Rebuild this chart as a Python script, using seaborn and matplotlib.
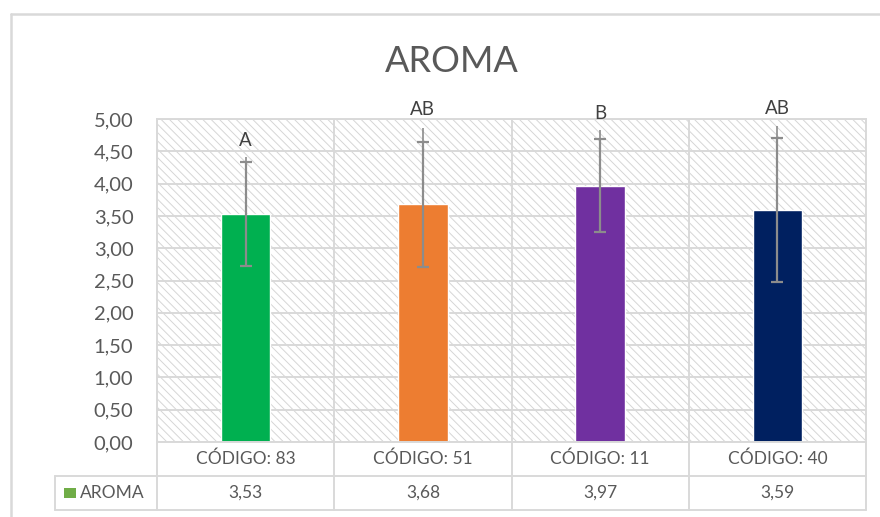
import matplotlib.pyplot as plt
import pandas as pd
import seaborn as sns
from matplotlib.lines import Line2D
from matplotlib.patches import Rectangle

# data
codes = ['CÓDIGO: 83', 'CÓDIGO: 51', 'CÓDIGO: 11', 'CÓDIGO: 40']
aroma = [3.53, 3.68, 3.97, 3.59]
sd = [0.80, 0.97, 0.72, 1.12]
whisker_top = [4.41, 4.86, 4.83, 4.89]
letters = ['A', 'AB', 'B', 'AB']
letter_y = [4.67, 5.15, 5.09, 5.17]
yticks = [0.0, 0.5, 1.0, 1.5, 2.0, 2.5, 3.0, 3.5, 4.0, 4.5, 5.0]
bar_colors = ['#00B050', '#ED7D31', '#7030A0', '#002060']

sns.set_style('white')
plt.rcParams['font.family'] = ['Lato', 'DejaVu Sans']
plt.rcParams['hatch.color'] = '#d6d6d6'
plt.rcParams['hatch.linewidth'] = 0.7

grid_c = '#d9d9d9'
text_c = '#595959'

df = pd.DataFrame({'codigo': codes, 'aroma': aroma})

fig = plt.figure(figsize=(8.8, 5.17), dpi=100)
ax = fig.add_axes([157 / 880, 1 - 442 / 517, 709 / 880, 323 / 517])

# hatched plot area background
ax.add_patch(Rectangle((0, 0), 1, 1, transform=ax.transAxes, facecolor='white',
                       edgecolor='#d6d6d6', lw=0, hatch='\\\\\\\\', zorder=0.2))

sns.barplot(data=df, x='codigo', y='aroma', hue='codigo', palette=bar_colors,
            width=0.28, legend=False, ax=ax, zorder=2, saturation=1)

x = list(range(len(codes)))
ax.errorbar(x, aroma, yerr=sd, fmt='none', ecolor='#8c8c8c', elinewidth=1.6,
            capsize=4.3, capthick=1.6, zorder=3)
tops = [v + e for v, e in zip(aroma, sd)]
ax.vlines(x, tops, whisker_top, color='#8c8c8c', lw=1.2, zorder=3)

for xi, lab, ly in zip(x, letters, letter_y):
    ax.text(xi, ly, lab, ha='center', va='center', fontsize=13.5, color='#404040', clip_on=False)

ax.set_xlim(-0.5, 3.5)
ax.set_ylim(0, 5)
ax.set_yticks(yticks)
ax.set_yticklabels([f'{v:.2f}'.replace('.', ',') for v in yticks], fontsize=14.5, color=text_c)
ax.set_xticks(x)
ax.set_xticklabels([])
ax.set_xticks([-0.5, 0.5, 1.5, 2.5, 3.5], minor=True)
ax.set_xlabel('')
ax.set_ylabel('')
ax.tick_params(axis='both', which='both', length=0, pad=17)
ax.set_axisbelow(True)
ax.grid(axis='y', color=grid_c, lw=1.4, zorder=0.5)
ax.grid(axis='x', which='minor', color=grid_c, lw=1.4, zorder=0.5)
for s in ax.spines.values():
    s.set_color(grid_c)
    s.set_linewidth(1.4)

# data table under the plot
h = 34 / 323
left = (55 - 157) / 709
tr = ax.transAxes
for yy in [-h, -2 * h]:
    ax.add_line(Line2D([left, 1], [yy, yy], transform=tr, color=grid_c, lw=1.4, clip_on=False))
ax.add_line(Line2D([left, left], [-h, -2 * h], transform=tr, color=grid_c, lw=1.4, clip_on=False))
for i in range(5):
    ax.add_line(Line2D([i / 4, i / 4], [0, -2 * h], transform=tr, color=grid_c, lw=1.4, clip_on=False))
for i, (c, v) in enumerate(zip(codes, aroma)):
    ax.text((i + 0.5) / 4, -0.5 * h, c, transform=tr, ha='center', va='center',
            fontsize=12.5, color=text_c)
    ax.text((i + 0.5) / 4, -1.5 * h, f'{v:.2f}'.replace('.', ','), transform=tr,
            ha='center', va='center', fontsize=12.5, color=text_c)
ax.add_patch(Rectangle(((64 - 157) / 709, -1.5 * h - 5 / 323), 12 / 709, 10 / 323,
                       transform=tr, facecolor='#70AD47', lw=0, clip_on=False))
ax.text((80 - 157) / 709, -1.5 * h, 'AROMA', transform=tr, ha='left', va='center',
        fontsize=12.5, color=text_c)

# chart border
fig.add_artist(Line2D([11 / 880, 1], [1 - 14 / 517] * 2, color=grid_c, lw=1.8))
fig.add_artist(Line2D([11 / 880] * 2, [0, 1 - 14 / 517], color=grid_c, lw=1.8))

fig.text(452 / 880, 1 - 62 / 517, 'AROMA', ha='center', va='center', fontsize=26, color=text_c)

fig.savefig('out.png', dpi=100)
